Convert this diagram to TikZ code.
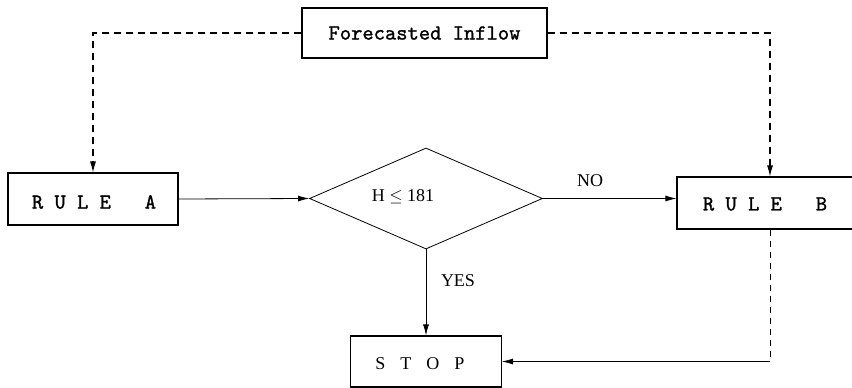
\documentclass[tikz,border=0pt]{standalone}
\usepackage{fontspec}
\setmainfont{Liberation Serif}
\newfontfamily\tw[FakeBold=1.2]{lmmono10-regular.otf}
\usetikzlibrary{shapes.geometric,arrows.meta}

\tikzset{
  blk/.style={draw, line width=1.1pt, rectangle, inner sep=0pt},
  twtext/.style={font=\tw\fontsize{21.5}{21.5}\selectfont, inner sep=0pt},
  rmtext/.style={font=\fontsize{18}{18}\selectfont, inner sep=0pt},
  flow/.style={line width=0.8pt, -{Latex[length=11pt,width=6pt]}},
  feed/.style={line width=1.1pt, dash pattern=on 7pt off 5pt, -{Latex[length=11pt,width=6pt]}},
  thinfeed/.style={line width=0.6pt, dash pattern=on 6pt off 5pt},
}

\begin{document}
\begin{tikzpicture}[x=1pt, y=-1pt]
  \useasboundingbox (0,0) rectangle (852,388);
  \fill[white] (0,0) rectangle (852,388);
  \clip (0,0) rectangle (852,388);

  % boxes
  \node[blk, minimum width=245pt, minimum height=50pt] (fc) at (424.5,33) {};
  \node[twtext] (fcl) at (fc.center) {Forecasted Inflow};

  \node[blk, minimum width=170pt, minimum height=52pt] (ruleA) at (93,199) {};
  \node[twtext] (ruleAl) at (94,202) {R U L E~~~A};

  \node[blk, minimum width=186pt, minimum height=52pt] (ruleB) at (770,203) {};
  \node[twtext] (ruleBl) at (765,204) {R U L E~~~B};

  \node[blk, minimum width=151pt, minimum height=51pt] (stop) at (426,361.5) {};
  \node[rmtext] (stopl) at (420,364) {S\hskip15pt T\hskip15pt O\hskip15pt P};

  % decision
  \node[draw, line width=0.8pt, diamond, minimum width=233pt, minimum height=101pt, inner sep=0pt] (dec) at (426,198.5) {};
  \node[rmtext] (decl) at (403,197) {H $\leq$ 181};

  % labels on the branches
  \node[rmtext] (nol) at (590,181) {NO};
  \node[rmtext] (yesl) at (458,281) {YES};

  % forecast feeds into both rules
  \draw[feed] (fc.west) -| (ruleA.north);
  \draw[feed] (fc.east) -| (ruleB.north);

  % main flow
  \draw[flow] (ruleA.east) -- (dec.west);
  \draw[flow] (dec.east) -- (dec.east -| ruleB.west);
  \draw[flow] (dec.south) -- (stop.north);

  % return from rule B to stop
  \coordinate (bend) at (ruleB.south |- stop.east);
  \draw[thinfeed] (ruleB.south) -- (bend);
  \draw[flow, line width=0.6pt] (bend) -- (stop.east);
\end{tikzpicture}
\end{document}
